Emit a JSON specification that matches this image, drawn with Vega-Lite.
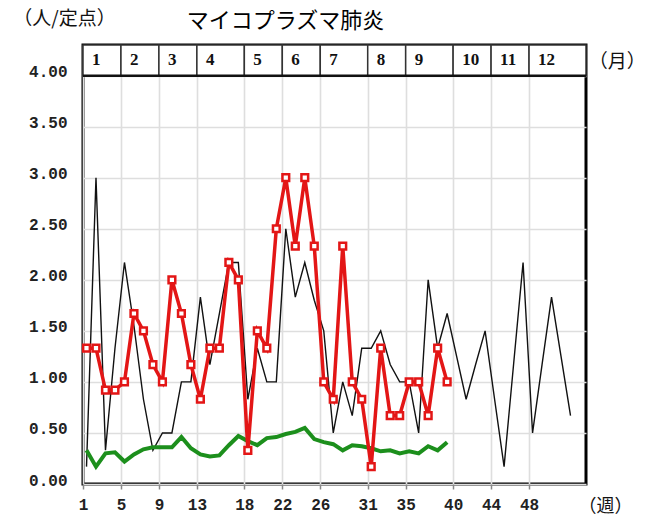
{
  "$schema": "https://vega.github.io/schema/vega-lite/v6.json",
  "width": 503,
  "height": 439,
  "autosize": "none",
  "padding": {"left": 83, "top": 45, "right": 63, "bottom": 36},
  "background": "white",
  "title": {"text": "マイコプラズマ肺炎", "font": "Noto Sans CJK JP", "fontSize": 22, "fontWeight": "normal", "color": "#000", "dx": -49, "offset": -24},
  "config": {
    "view": {"stroke": "#000", "strokeWidth": 3},
    "axisX": {"title": "（週）", "grid": true, "gridColor": "#dedede", "gridWidth": 1.6, "domain": false, "ticks": true, "tickColor": "#888888", "tickSize": 5, "tickWidth": 1.5, "labelFont": "Liberation Mono", "labelFontSize": 16, "labelFontWeight": "bold", "labelColor": "#222222", "labelPadding": 7, "labelFlush": false, "labelOverlap": false, "titleFont": "Noto Sans CJK JP", "titleFontSize": 18, "titleFontWeight": "normal", "titleColor": "#111111", "titleX": 522, "titleY": 22, "titleAlign": "center", "titleBaseline": "middle"},
    "axisY": {"title": "（人/定点）", "grid": true, "gridColor": "#dedede", "gridWidth": 1.6, "domain": false, "ticks": false, "labelPadding": 16, "labelOffset": -4, "labelFont": "Liberation Mono", "labelFontSize": 16, "labelFontWeight": "bold", "labelColor": "#222222", "titleFont": "Noto Sans CJK JP", "titleFontSize": 19, "titleFontWeight": "normal", "titleColor": "#111111", "titleAngle": 0, "titleX": -19, "titleY": -27, "titleAlign": "center", "titleBaseline": "middle"}
  },
  "datasets": {
    "one": [{"label": "（月）"}],
    "months": [
      {"month": "1", "start": 1, "end": 5},
      {"month": "2", "start": 5, "end": 9},
      {"month": "3", "start": 9, "end": 13},
      {"month": "4", "start": 13, "end": 18},
      {"month": "5", "start": 18, "end": 22},
      {"month": "6", "start": 22, "end": 26},
      {"month": "7", "start": 26, "end": 31},
      {"month": "8", "start": 31, "end": 35},
      {"month": "9", "start": 35, "end": 40},
      {"month": "10", "start": 40, "end": 44},
      {"month": "11", "start": 44, "end": 48},
      {"month": "12", "start": 48, "end": 54}
    ],
    "prev": [
      {"week": 1, "value": 0.17}, {"week": 2, "value": 3.0}, {"week": 3, "value": 0.33}, {"week": 4, "value": 1.33},
      {"week": 5, "value": 2.17}, {"week": 6, "value": 1.55}, {"week": 7, "value": 0.83}, {"week": 8, "value": 0.33},
      {"week": 9, "value": 0.5}, {"week": 10, "value": 0.5}, {"week": 11, "value": 1.0}, {"week": 12, "value": 1.0},
      {"week": 13, "value": 1.83}, {"week": 14, "value": 1.17}, {"week": 15, "value": 1.67}, {"week": 16, "value": 2.17},
      {"week": 17, "value": 2.17}, {"week": 18, "value": 0.83}, {"week": 19, "value": 1.33}, {"week": 20, "value": 1.0},
      {"week": 21, "value": 1.0}, {"week": 22, "value": 2.5}, {"week": 23, "value": 1.83}, {"week": 24, "value": 2.17},
      {"week": 25, "value": 1.8}, {"week": 26, "value": 1.5}, {"week": 27, "value": 0.5}, {"week": 28, "value": 1.0},
      {"week": 29, "value": 0.67}, {"week": 30, "value": 1.33}, {"week": 31, "value": 1.33}, {"week": 32, "value": 1.5},
      {"week": 33, "value": 1.17}, {"week": 34, "value": 1.0}, {"week": 35, "value": 1.0}, {"week": 36, "value": 0.5},
      {"week": 37, "value": 2.0}, {"week": 38, "value": 1.33}, {"week": 39, "value": 1.67}, {"week": 40, "value": 1.25},
      {"week": 41, "value": 0.83}, {"week": 42, "value": 1.17}, {"week": 43, "value": 1.5}, {"week": 44, "value": 0.83},
      {"week": 45, "value": 0.17}, {"week": 46, "value": 1.17}, {"week": 47, "value": 2.17}, {"week": 48, "value": 0.5},
      {"week": 49, "value": 1.17}, {"week": 50, "value": 1.83}, {"week": 51, "value": 1.25}, {"week": 52, "value": 0.67}
    ],
    "avg": [
      {"week": 1, "value": 0.33}, {"week": 2, "value": 0.17}, {"week": 3, "value": 0.3}, {"week": 4, "value": 0.31},
      {"week": 5, "value": 0.22}, {"week": 6, "value": 0.29}, {"week": 7, "value": 0.34}, {"week": 8, "value": 0.36},
      {"week": 9, "value": 0.36}, {"week": 10, "value": 0.36}, {"week": 11, "value": 0.46}, {"week": 12, "value": 0.35},
      {"week": 13, "value": 0.29}, {"week": 14, "value": 0.27}, {"week": 15, "value": 0.28}, {"week": 16, "value": 0.38},
      {"week": 17, "value": 0.47}, {"week": 18, "value": 0.42}, {"week": 19, "value": 0.38}, {"week": 20, "value": 0.45},
      {"week": 21, "value": 0.46}, {"week": 22, "value": 0.49}, {"week": 23, "value": 0.51}, {"week": 24, "value": 0.55},
      {"week": 25, "value": 0.44}, {"week": 26, "value": 0.41}, {"week": 27, "value": 0.39}, {"week": 28, "value": 0.33},
      {"week": 29, "value": 0.38}, {"week": 30, "value": 0.37}, {"week": 31, "value": 0.35}, {"week": 32, "value": 0.32},
      {"week": 33, "value": 0.33}, {"week": 34, "value": 0.3}, {"week": 35, "value": 0.32}, {"week": 36, "value": 0.3},
      {"week": 37, "value": 0.37}, {"week": 38, "value": 0.33}, {"week": 39, "value": 0.41}
    ],
    "curr": [
      {"week": 1, "value": 1.33}, {"week": 2, "value": 1.33}, {"week": 3, "value": 0.92}, {"week": 4, "value": 0.92},
      {"week": 5, "value": 1.0}, {"week": 6, "value": 1.67}, {"week": 7, "value": 1.5}, {"week": 8, "value": 1.17},
      {"week": 9, "value": 1.0}, {"week": 10, "value": 2.0}, {"week": 11, "value": 1.67}, {"week": 12, "value": 1.17},
      {"week": 13, "value": 0.83}, {"week": 14, "value": 1.33}, {"week": 15, "value": 1.33}, {"week": 16, "value": 2.17},
      {"week": 17, "value": 2.0}, {"week": 18, "value": 0.33}, {"week": 19, "value": 1.5}, {"week": 20, "value": 1.33},
      {"week": 21, "value": 2.5}, {"week": 22, "value": 3.0}, {"week": 23, "value": 2.33}, {"week": 24, "value": 3.0},
      {"week": 25, "value": 2.33}, {"week": 26, "value": 1.0}, {"week": 27, "value": 0.83}, {"week": 28, "value": 2.33},
      {"week": 29, "value": 1.0}, {"week": 30, "value": 0.83}, {"week": 31, "value": 0.17}, {"week": 32, "value": 1.33},
      {"week": 33, "value": 0.67}, {"week": 34, "value": 0.67}, {"week": 35, "value": 1.0}, {"week": 36, "value": 1.0},
      {"week": 37, "value": 0.67}, {"week": 38, "value": 1.33}, {"week": 39, "value": 1.0}
    ]
  },
  "layer": [
    {
      "data": {"name": "months"},
      "mark": {"type": "rect", "fill": "white", "stroke": "#333333", "strokeWidth": 1.5},
      "encoding": {
        "x": {"field": "start", "type": "quantitative", "scale": {"domain": [1, 54], "nice": false, "zero": false}, "title": "（週）", "axis": {"values": [1, 5, 9, 13, 18, 22, 26, 31, 35, 40, 44, 48]}},
        "x2": {"field": "end"},
        "y": {"datum": 4, "type": "quantitative", "scale": {"domain": [0, 4.3], "nice": false, "zero": true}, "title": "（人/定点）", "axis": {"values": [0, 0.5, 1, 1.5, 2, 2.5, 3, 3.5, 4], "format": ".2f"}},
        "y2": {"datum": 4.3}
      }
    },
    {
      "data": {"name": "months"},
      "mark": {"type": "text", "align": "left", "baseline": "middle", "dx": 9, "font": "Liberation Serif", "fontSize": 17, "fontWeight": "bold", "color": "#111111"},
      "encoding": {
        "x": {"field": "start", "type": "quantitative", "scale": {"domain": [1, 54], "nice": false, "zero": false}, "title": "（週）", "axis": {"values": [1, 5, 9, 13, 18, 22, 26, 31, 35, 40, 44, 48]}},
        "y": {"datum": 4.15, "type": "quantitative", "scale": {"domain": [0, 4.3], "nice": false, "zero": true}, "title": "（人/定点）", "axis": {"values": [0, 0.5, 1, 1.5, 2, 2.5, 3, 3.5, 4], "format": ".2f"}},
        "text": {"field": "month"}
      }
    },
    {
      "data": {"name": "one"},
      "mark": {"type": "rule", "color": "#111111", "strokeWidth": 2.5},
      "encoding": {
        "y": {"datum": 4, "type": "quantitative", "scale": {"domain": [0, 4.3], "nice": false, "zero": true}, "title": "（人/定点）", "axis": {"values": [0, 0.5, 1, 1.5, 2, 2.5, 3, 3.5, 4], "format": ".2f"}}
      }
    },
    {
      "data": {"name": "one"},
      "mark": {"type": "text", "align": "center", "baseline": "middle", "font": "Noto Sans CJK JP", "fontSize": 19, "color": "#111111"},
      "encoding": {
        "x": {"datum": 57.3, "type": "quantitative", "scale": {"domain": [1, 54], "nice": false, "zero": false}, "title": "（週）", "axis": {"values": [1, 5, 9, 13, 18, 22, 26, 31, 35, 40, 44, 48]}},
        "y": {"datum": 4.13, "type": "quantitative", "scale": {"domain": [0, 4.3], "nice": false, "zero": true}, "title": "（人/定点）", "axis": {"values": [0, 0.5, 1, 1.5, 2, 2.5, 3, 3.5, 4], "format": ".2f"}},
        "text": {"field": "label"}
      }
    },
    {
      "data": {"name": "prev"},
      "mark": {"type": "line", "color": "#111111", "strokeWidth": 1.4, "xOffset": 3.5},
      "encoding": {
        "x": {"field": "week", "type": "quantitative", "scale": {"domain": [1, 54], "nice": false, "zero": false}, "title": "（週）", "axis": {"values": [1, 5, 9, 13, 18, 22, 26, 31, 35, 40, 44, 48]}},
        "y": {"field": "value", "type": "quantitative", "scale": {"domain": [0, 4.3], "nice": false, "zero": true}, "title": "（人/定点）", "axis": {"values": [0, 0.5, 1, 1.5, 2, 2.5, 3, 3.5, 4], "format": ".2f"}}
      }
    },
    {
      "data": {"name": "avg"},
      "mark": {"type": "line", "color": "#1c8f1c", "strokeWidth": 4, "xOffset": 3.5},
      "encoding": {
        "x": {"field": "week", "type": "quantitative", "scale": {"domain": [1, 54], "nice": false, "zero": false}, "title": "（週）", "axis": {"values": [1, 5, 9, 13, 18, 22, 26, 31, 35, 40, 44, 48]}},
        "y": {"field": "value", "type": "quantitative", "scale": {"domain": [0, 4.3], "nice": false, "zero": true}, "title": "（人/定点）", "axis": {"values": [0, 0.5, 1, 1.5, 2, 2.5, 3, 3.5, 4], "format": ".2f"}}
      }
    },
    {
      "data": {"name": "curr"},
      "mark": {"type": "line", "color": "#e31616", "strokeWidth": 3.5, "xOffset": 3.5},
      "encoding": {
        "x": {"field": "week", "type": "quantitative", "scale": {"domain": [1, 54], "nice": false, "zero": false}, "title": "（週）", "axis": {"values": [1, 5, 9, 13, 18, 22, 26, 31, 35, 40, 44, 48]}},
        "y": {"field": "value", "type": "quantitative", "scale": {"domain": [0, 4.3], "nice": false, "zero": true}, "title": "（人/定点）", "axis": {"values": [0, 0.5, 1, 1.5, 2, 2.5, 3, 3.5, 4], "format": ".2f"}}
      }
    },
    {
      "data": {"name": "curr"},
      "mark": {"type": "point", "shape": "square", "size": 45, "filled": true, "fill": "white", "stroke": "#e31616", "strokeWidth": 2.5, "opacity": 1, "xOffset": 3.5},
      "encoding": {
        "x": {"field": "week", "type": "quantitative", "scale": {"domain": [1, 54], "nice": false, "zero": false}, "title": "（週）", "axis": {"values": [1, 5, 9, 13, 18, 22, 26, 31, 35, 40, 44, 48]}},
        "y": {"field": "value", "type": "quantitative", "scale": {"domain": [0, 4.3], "nice": false, "zero": true}, "title": "（人/定点）", "axis": {"values": [0, 0.5, 1, 1.5, 2, 2.5, 3, 3.5, 4], "format": ".2f"}}
      }
    }
  ]
}
